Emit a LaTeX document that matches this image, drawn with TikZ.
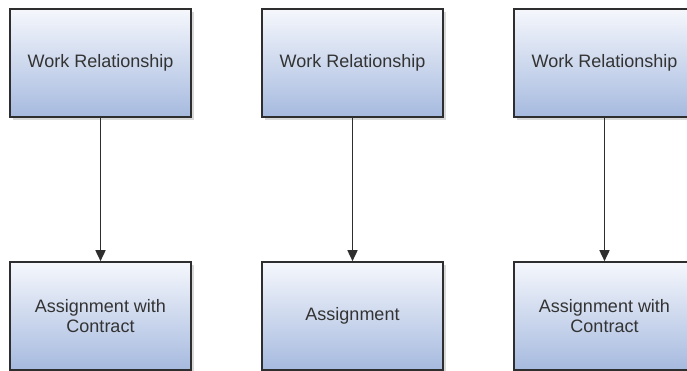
\documentclass[tikz,border=0pt]{standalone}
\usepackage{fontspec}
\setmainfont{Liberation Sans}
\usetikzlibrary{arrows.meta,shadows}
\definecolor{boxtop}{HTML}{F5F7FC}
\definecolor{boxbot}{HTML}{A6BADF}
\definecolor{boxline}{HTML}{2E2E2E}
\definecolor{txt}{HTML}{333333}

\begin{document}
\begin{tikzpicture}[block/.style={rectangle, draw=boxline, line width=1.6pt, top color=boxtop, bottom color=boxbot,
      minimum width=181pt, minimum height=108pt, align=center, text=txt, font=\fontsize{18pt}{20.5pt}\selectfont,
      drop shadow={shadow xshift=3pt, shadow yshift=-3pt, fill=black!25, opacity=0.6}},
      link/.style={-{Triangle[length=11pt,width=10pt]}, line width=1.6pt, draw=boxline},
      node distance=252pt,]
      \useasboundingbox (0,0) rectangle (687pt,371pt);
      \node[block] (WR1) at (100.5pt,308pt) {Work Relationship};
      \node[block, right of=WR1] (WR2) {Work Relationship};
      \node[block, right of=WR2] (WR3) {Work Relationship};

      \node[block, below of=WR1, node distance=253pt] (AC1) {Assignment with\\Contract};
      \node[block, below of=WR2, node distance=253pt] (A2) {Assignment};
      \node[block, below of=WR3, node distance=253pt] (AC3) {Assignment with\\Contract};

      \draw[link] (WR1) -- (AC1);
      \draw[link] (WR2) -- (A2);
      \draw[link] (WR3) -- (AC3);

    \end{tikzpicture}
\end{document}
